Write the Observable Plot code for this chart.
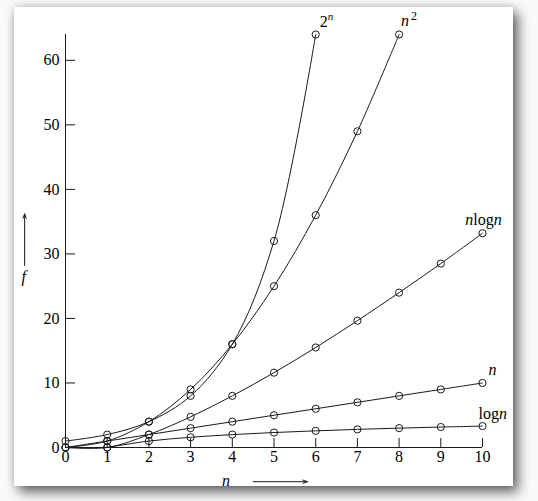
<!DOCTYPE html>
<html>
<head>
<meta charset="utf-8">
<script src="https://cdn.jsdelivr.net/npm/d3@7"></script>
<script src="https://cdn.jsdelivr.net/npm/@observablehq/plot@0.6"></script>
<style>
  html, body { margin: 0; padding: 0; background: #ffffff; }
  #wrap { position: relative; width: 538px; height: 501px; overflow: hidden; background: #fafafa; }
  #panel { position: absolute; left: 14px; top: 7px; width: 499px; height: 479px; background: #ffffff;
           box-shadow: 5px 6px 12px rgba(0,0,0,0.6), 0 0 8px rgba(0,0,0,0.18); }
  #chart { position: absolute; left: 0; top: 0; }
  #chart svg, #chart svg text { font-family: 'Liberation Serif', 'DejaVu Serif', serif; }
</style>
</head>
<body>
<div id="wrap"><div id="panel"></div><div id="chart"></div></div>
<script>
// ---- data ----
const seriesNames = ["2^n", "n^2", "nlogn", "n", "logn"];
const xPow2 = [0, 1, 2, 3, 4, 5, 6];
const yPow2 = [1, 2, 4, 8, 16, 32, 64];
const xSquare = [0, 1, 2, 3, 4, 5, 6, 7, 8];
const ySquare = [0, 1, 4, 9, 16, 25, 36, 49, 64];
const xNLogN = [0, 1, 2, 3, 4, 5, 6, 7, 8, 9, 10];
const yNLogN = [0, 0, 2, 4.75, 8, 11.6, 15.5, 19.65, 24, 28.5, 33.2];
const xLinear = [0, 1, 2, 3, 4, 5, 6, 7, 8, 9, 10];
const yLinear = [0, 1, 2, 3, 4, 5, 6, 7, 8, 9, 10];
const xLog = [1, 2, 3, 4, 5, 6, 7, 8, 9, 10];
const yLog = [0, 1, 1.58, 2, 2.32, 2.58, 2.81, 3, 3.17, 3.32];
const xTicks = [0, 1, 2, 3, 4, 5, 6, 7, 8, 9, 10];
const yTicks = [0, 10, 20, 30, 40, 50, 60];
const axisTitles = [{x: 3.85, y: -5.2, text: "n"}, {x: -1.0, y: 26.4, text: "f"}];
const axisArrows = [{x1: 4.5, y1: -5.3, x2: 5.8, y2: -5.3}, {x1: -0.98, y1: 28.2, x2: -0.98, y2: 36.2}];

// ---- build tables ----
const xsList = [xPow2, xSquare, xNLogN, xLinear, xLog];
const ysList = [yPow2, ySquare, yNLogN, yLinear, yLog];
const points = seriesNames.flatMap((name, i) => xsList[i].map((x, j) => ({series: name, x, y: ysList[i][j]})));
const ends = seriesNames.map((name, i) => ({series: name, x: xsList[i][xsList[i].length - 1], y: ysList[i][ysList[i].length - 1]}));

const labelPlacement = {
  "2^n":   {dx: 4,  dy: -13, anchor: "start"},
  "n^2":   {dx: 2,  dy: -14, anchor: "start"},
  "nlogn": {dx: 1,  dy: -13, anchor: "middle"},
  "n":     {dx: 6,  dy: -13, anchor: "start"},
  "logn":  {dx: -4, dy: -12, anchor: "start"}
};
const ink = "#1a1a1a";

const plot = Plot.plot({
  width: 538,
  height: 501,
  marginLeft: 65,
  marginRight: 56,
  marginTop: 34,
  marginBottom: 54,
  style: "background: transparent; font-family: 'Liberation Serif', 'DejaVu Serif', serif; font-size: 16px; color: #1a1a1a;",
  x: {domain: [0, 10], label: null},
  y: {domain: [0, 64], label: null},
  marks: [
    Plot.ruleX([0], {y1: 0, y2: 64, stroke: ink, strokeWidth: 1}),
    Plot.ruleY([0], {x1: 0, x2: 10, stroke: ink, strokeWidth: 1}),
    Plot.axisY(yTicks.filter(d => d > 0), {anchor: "left", tickSize: -10, text: null, stroke: ink}),
    Plot.axisY(yTicks, {anchor: "left", tickSize: 0, tickPadding: 6, fontSize: 16, fill: "#000", label: null}),
    Plot.axisX(xTicks.filter(d => d > 0), {anchor: "bottom", tickSize: -9, text: null, stroke: ink}),
    Plot.axisX(xTicks, {anchor: "bottom", tickSize: 0, tickPadding: 3, fontSize: 16, fill: "#000", label: null}),
    Plot.line(points, {x: "x", y: "y", z: "series", curve: "catmull-rom", stroke: ink, strokeWidth: 1}),
    Plot.dot(points, {x: "x", y: "y", r: 3.6, stroke: ink, strokeWidth: 1, fill: "none"}),
    ...seriesNames.map(name => Plot.text(ends.filter(d => d.series === name), {
      x: "x", y: "y", text: "series", dx: labelPlacement[name].dx, dy: labelPlacement[name].dy,
      textAnchor: labelPlacement[name].anchor, fontSize: 16, fill: "#000", className: "series-label"
    })),
    Plot.text(axisTitles, {x: "x", y: "y", text: "text", fontSize: 16, fontStyle: "italic", fill: "#000", clip: false}),
    Plot.arrow(axisArrows, {x1: "x1", y1: "y1", x2: "x2", y2: "y2", stroke: ink, strokeWidth: 1, headLength: 7, headAngle: 40})
  ]
});

// rich text for the series labels (italic variable, superscripts)
const markup = {
  "2^n": '2<tspan font-style="italic" font-size="11" dy="-7">n</tspan>',
  "n^2": '<tspan font-style="italic">n</tspan><tspan font-size="12" dy="-6" dx="2">2</tspan>',
  "nlogn": '<tspan font-style="italic">n</tspan>log<tspan font-style="italic">n</tspan>',
  "n": '<tspan font-style="italic">n</tspan>',
  "logn": 'log<tspan font-style="italic">n</tspan>'
};
plot.querySelectorAll("g.series-label text, .series-label text").forEach(t => {
  const k = t.textContent;
  if (markup[k]) t.innerHTML = markup[k];
});

document.getElementById("chart").appendChild(plot);
</script>
</body>
</html>
